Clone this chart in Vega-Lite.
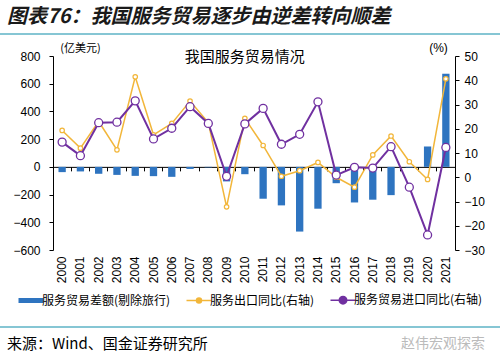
{
  "$schema": "https://vega.github.io/schema/vega-lite/v6.json",
  "padding": {"left": 0, "right": 0, "top": 7, "bottom": 0},
  "background": "white",
  "config": {
    "view": {"stroke": null},
    "font": "Liberation Sans",
    "axis": {"labelFont": "Liberation Sans", "labelFontSize": 12, "labelColor": "#000", "domainColor": "#000", "tickColor": "#000", "grid": false}
  },
  "datasets": {
    "svc": [
      {"year": "2000", "balance": -38, "export": 19.3, "import": 14.5},
      {"year": "2001", "balance": -33, "export": 12.0, "import": 8.9},
      {"year": "2002", "balance": -50, "export": 23.0, "import": 22.5},
      {"year": "2003", "balance": -58, "export": 11.3, "import": 22.7},
      {"year": "2004", "balance": -65, "export": 41.4, "import": 31.5},
      {"year": "2005", "balance": -67, "export": 17.5, "import": 15.8},
      {"year": "2006", "balance": -72, "export": 22.2, "import": 20.2},
      {"year": "2007", "balance": -15, "export": 31.4, "import": 29.1},
      {"year": "2008", "balance": -4, "export": 22.5, "import": 22.2},
      {"year": "2009", "balance": -105, "export": -12.2, "import": 0.4},
      {"year": "2010", "balance": -53, "export": 24.3, "import": 22.0},
      {"year": "2011", "balance": -230, "export": 13.1, "import": 28.4},
      {"year": "2012", "balance": -278, "export": 0.4, "import": 13.6},
      {"year": "2013", "balance": -467, "export": 2.7, "import": 17.7},
      {"year": "2014", "balance": -302, "export": 6.1, "import": 31.1},
      {"year": "2015", "balance": -118, "export": 0.0, "import": 0.9},
      {"year": "2016", "balance": -257, "export": -4.1, "import": 4.1},
      {"year": "2017", "balance": -237, "export": 9.2, "import": 3.8},
      {"year": "2018", "balance": -204, "export": 17.0, "import": 12.6},
      {"year": "2019", "balance": -5, "export": 6.4, "import": -4.1},
      {"year": "2020", "balance": 147, "export": -0.9, "import": -23.8},
      {"year": "2021", "balance": 672, "export": 40.6, "import": 12.3}
    ]
  },
  "spacing": 6,
  "resolve": {"scale": {"color": "independent", "x": "independent"}},
  "vconcat": [
    {
      "width": 500,
      "height": 2,
      "layer": [
        {
          "data": {"values": [{"band": "header"}]},
          "mark": {"type": "rect", "color": "#86c6d4", "opacity": 1},
          "encoding": {"x": {"datum": 0, "type": "quantitative", "scale": {"domain": [0, 1]}, "axis": null}, "x2": {"datum": 1}, "y": {"datum": 0, "type": "quantitative", "scale": {"domain": [0, 1]}, "axis": null}, "y2": {"datum": 1}}
        },
        {
          "data": {"values": [{"t": "图表76：我国服务贸易逐步由逆差转向顺差"}]},
          "mark": {"type": "text", "align": "left", "baseline": "middle", "dy": -18, "font": "Noto Sans CJK SC", "fontSize": 20, "fontWeight": "bold", "fontStyle": "italic", "color": "#1a1a1a"},
          "encoding": {
            "x": {"datum": 0.014, "type": "quantitative"},
            "y": {"datum": 0, "type": "quantitative"},
            "text": {"field": "t"}
          }
        }
      ]
    },
    {
      "width": 455,
      "height": 194,
      "layer": [
        {
          "data": {"name": "svc"},
          "encoding": {
            "x": {"field": "year", "type": "ordinal", "scale": {"range": [53, 455], "paddingInner": 0.6, "paddingOuter": 0.3}, "axis": {"title": null, "labelAngle": -90, "domain": false, "ticks": false, "labelPadding": 6}}
          },
          "layer": [
            {
              "mark": {"type": "bar"},
              "encoding": {
                "y": {"field": "balance", "type": "quantitative", "scale": {"domain": [-600, 800], "nice": false}, "axis": {"orient": "left", "offset": -53, "title": "(亿美元)", "titleAngle": 0, "titleX": 27, "titleY": -8, "titleAlign": "center", "titleBaseline": "middle", "titleFont": "Noto Sans CJK SC", "titleFontSize": 11, "titleFontWeight": "normal", "titleColor": "#000", "values": [-600, -400, -200, 0, 200, 400, 600, 800], "tickCount": 20, "labelOverlap": false, "tickSize": 4, "labelPadding": 9}},
                "color": {
                  "datum": "服务贸易差额(剔除旅行)",
                  "type": "nominal",
                  "scale": {"domain": ["服务贸易差额(剔除旅行)", "服务出口同比(右轴)", "服务贸易进口同比(右轴)"], "range": ["#2e74c0", "#f2b63a", "#7030a0"]},
                  "legend": {
                    "orient": "none", "legendX": 23, "legendY": 236, "direction": "horizontal", "title": null,
                    "labelFont": "Noto Sans CJK SC", "labelFontSize": 12, "labelColor": "#000",
                    "symbolSize": 625, "labelOffset": 5, "columnPadding": 12, "padding": 2,
                    "encode": {
                      "symbols": {
                        "update": {
                          "shape": {"signal": "datum.value === '服务贸易差额(剔除旅行)' ? 'M-1,-0.2H1V0.2H-1Z' : datum.value === '服务出口同比(右轴)' ? 'M-1,0H-0.2M0.2,0H1M0.2,0A0.2,0.2,0,1,1,-0.2,0A0.2,0.2,0,1,1,0.2,0' : 'M-1,0H-0.3M0.3,0H1M0.3,0A0.3,0.3,0,1,1,-0.3,0A0.3,0.3,0,1,1,0.3,0'"},
                          "fill": {"signal": "datum.value === '服务贸易差额(剔除旅行)' ? '#2e74c0' : '#ffffff'"},
                          "stroke": {"signal": "datum.value === '服务贸易差额(剔除旅行)' ? '#2e74c0' : datum.value === '服务出口同比(右轴)' ? '#f2b63a' : '#7030a0'"},
                          "strokeWidth": {"signal": "datum.value === '服务贸易差额(剔除旅行)' ? 0 : 1.5"},
                          "opacity": {"value": 1},
                          "fillOpacity": {"value": 1}
                        }
                      }
                    }
                  }
                }
              }
            },
            {
              "data": {"values": [{"label": "我国服务贸易情况"}]},
              "mark": {"type": "text", "font": "Noto Sans CJK SC", "fontSize": 15, "baseline": "middle", "align": "center", "color": "#000"},
              "encoding": {"x": {"datum": "2010", "type": "ordinal"}, "y": {"datum": 790, "type": "quantitative"}, "text": {"field": "label"}}
            }
          ]
        },
        {
          "data": {"name": "svc"},
          "encoding": {
            "x": {"field": "year", "type": "ordinal", "axis": {"title": null, "orient": "bottom", "offset": -83.14, "labels": false, "domain": true, "ticks": true, "tickSize": 4, "bandPosition": -0.75, "domainColor": "#000", "tickColor": "#000"}}
          },
          "layer": [
            {
              "mark": {"type": "line", "strokeWidth": 1.5},
              "encoding": {
                "y": {"field": "export", "type": "quantitative", "scale": {"domain": [-30, 50], "nice": false}, "axis": {"orient": "right", "title": "(%)", "titleAngle": 0, "titleX": -17, "titleY": -9, "titleAlign": "center", "titleBaseline": "middle", "titleFont": "Liberation Sans", "titleFontSize": 12, "titleFontWeight": "normal", "titleColor": "#000", "values": [-30, -20, -10, 0, 10, 20, 30, 40, 50], "tickCount": 20, "labelOverlap": false, "tickSize": 4, "labelPadding": 5}},
                "color": {"datum": "服务出口同比(右轴)", "type": "nominal"}
              }
            },
            {
              "mark": {"type": "point", "filled": true, "fill": "#ffffff", "stroke": "#f2b63a", "strokeWidth": 1.2, "size": 20, "opacity": 1},
              "encoding": {"y": {"field": "export", "type": "quantitative"}}
            },
            {
              "mark": {"type": "line", "strokeWidth": 2},
              "encoding": {
                "y": {"field": "import", "type": "quantitative"},
                "color": {"datum": "服务贸易进口同比(右轴)", "type": "nominal"}
              }
            },
            {
              "mark": {"type": "point", "filled": true, "fill": "#ffffff", "stroke": "#7030a0", "strokeWidth": 1.3, "size": 64, "opacity": 1},
              "encoding": {"y": {"field": "import", "type": "quantitative"}}
            }
          ]
        }
      ],
      "resolve": {"scale": {"y": "independent"}, "axis": {"x": "independent"}}
    },
    {
      "width": 500,
      "height": 13,
      "layer": [
        {
          "data": {"values": [{"band": "footer"}]},
          "mark": {"type": "rect", "color": "#86c6d4", "opacity": 1},
          "encoding": {"x": {"datum": 0, "type": "quantitative", "scale": {"domain": [0, 1]}, "axis": null}, "x2": {"datum": 1}, "y": {"datum": 0, "type": "quantitative", "scale": {"domain": [0, 1]}, "axis": null}, "y2": {"datum": 0.15}}
        },
        {
          "data": {"values": [{"t": "来源：Wind、国金证券研究所"}]},
          "mark": {"type": "text", "align": "left", "baseline": "middle", "dy": 16, "font": "Noto Sans CJK SC", "fontSize": 15, "color": "#000"},
          "encoding": {
            "x": {"datum": 0.014, "type": "quantitative"},
            "y": {"datum": 0, "type": "quantitative"},
            "text": {"field": "t"}
          }
        },
        {
          "data": {"values": [{"t": "赵伟宏观探索"}]},
          "mark": {"type": "text", "align": "right", "baseline": "middle", "dy": 16, "font": "Noto Sans CJK SC", "fontSize": 14, "color": "#bbbbbb"},
          "encoding": {"x": {"datum": 0.97, "type": "quantitative"}, "y": {"datum": 0, "type": "quantitative"}, "text": {"field": "t"}}
        }
      ]
    }
  ]
}
